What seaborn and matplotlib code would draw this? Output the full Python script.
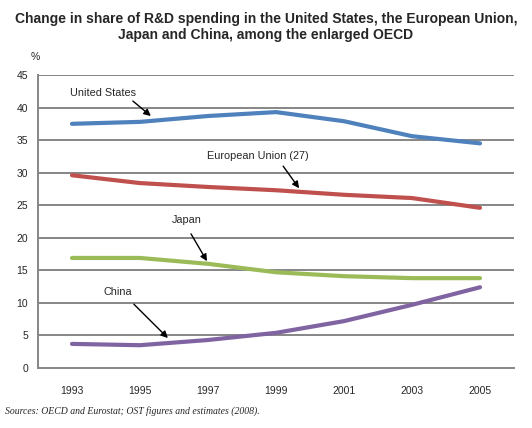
import matplotlib
matplotlib.use('Agg')
import matplotlib.pyplot as plt
import pandas as pd
import seaborn as sns

# Data (% of enlarged-OECD R&D spending)
years = [1993, 1995, 1997, 1999, 2001, 2003, 2005]
united_states = [37.5, 37.8, 38.7, 39.3, 37.9, 35.6, 34.5]
european_union = [29.6, 28.4, 27.8, 27.3, 26.6, 26.1, 24.6]
japan = [16.9, 16.9, 16.0, 14.7, 14.1, 13.8, 13.8]
china = [3.7, 3.5, 4.3, 5.4, 7.2, 9.7, 12.4]
series_names = ['United States', 'European Union (27)', 'Japan', 'China']
y_ticks = [0, 5, 10, 15, 20, 25, 30, 35, 40, 45]

df = pd.DataFrame({
    'year': years * 4,
    'value': united_states + european_union + japan + china,
    'region': [n for n in series_names for _ in years],
})

palette = {
    'United States': '#4F81BD',
    'European Union (27)': '#C0504D',
    'Japan': '#9BBB59',
    'China': '#8064A2',
}

sns.set_style('white')
plt.rcParams['font.family'] = ['Liberation Sans', 'DejaVu Sans']

fig = plt.figure(figsize=(5.32, 4.28), dpi=100)
ax = fig.add_axes([0.0714, 0.1402, 0.8948, 0.6846])

for y in y_ticks[1:]:
    ax.axhline(y, color='#868686', lw=1.4, zorder=1)

sns.lineplot(data=df, x='year', y='value', hue='region', palette=palette,
             linewidth=3, legend=False, ax=ax, zorder=3)

ax.set_xlim(1992, 2006)
ax.set_ylim(0, 45)
ax.set_xticks(years)
ax.set_yticks(y_ticks)
ax.tick_params(axis='x', length=0, labelsize=7.5, pad=13)
ax.tick_params(axis='y', length=3, width=1.2, color='#868686', labelsize=7.5, pad=4)
ax.set_xlabel('')
ax.set_ylabel('')
for s in ['top', 'right']:
    ax.spines[s].set_visible(False)
ax.spines['left'].set_color('#868686')
ax.spines['bottom'].set_color('#868686')
ax.spines['left'].set_linewidth(1.4)
ax.spines['bottom'].set_linewidth(1.4)

# labels and arrows
notes = [
    ('United States', (1993.91, 42.2), (1994.79, 41.0), (1995.32, 38.7)),
    ('European Union (27)', (1998.47, 32.6), (1999.21, 31.0), (1999.68, 27.6)),
    ('Japan', (1996.38, 22.7), (1996.5, 20.6), (1996.97, 16.4)),
    ('China', (1994.35, 11.7), (1994.82, 9.8), (1995.82, 4.6)),
]
for label, txt, tail, head in notes:
    ax.text(txt[0], txt[1], label, ha='center', va='center', fontsize=7.8, zorder=5)
    ax.annotate('', xy=head, xytext=tail,
                arrowprops=dict(arrowstyle='-|>', color='black', lw=1,
                                mutation_scale=10, shrinkA=0, shrinkB=0),
                zorder=5)

fig.text(0.5, 0.972, 'Change in share of R&D spending in the United States, the European Union,\n'
         'Japan and China, among the enlarged OECD',
         ha='center', va='top', fontsize=10, fontweight='bold', linespacing=1.2)
fig.text(0.066, 0.866, '%', ha='center', va='center', fontsize=7.5)
fig.text(0.01, 0.04, 'Sources: OECD and Eurostat; OST figures and estimates (2008).',
         ha='left', va='center', fontsize=7, style='italic',
         family=['Liberation Serif', 'DejaVu Serif'])

fig.savefig('out.png', dpi=100)
